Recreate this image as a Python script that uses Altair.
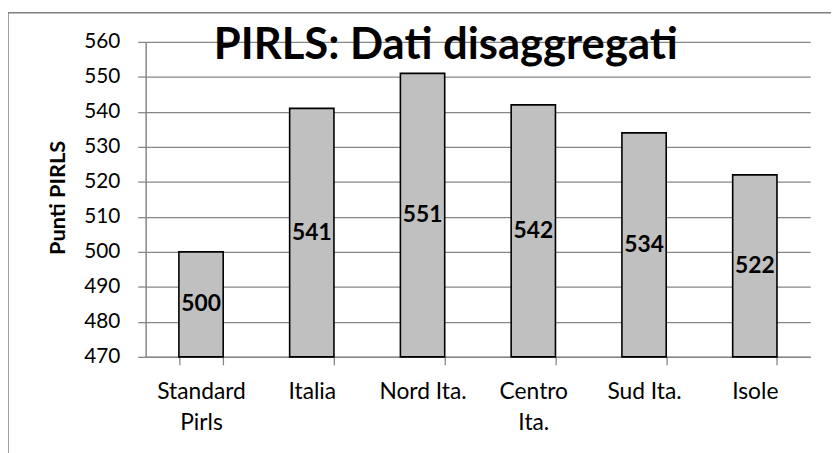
import altair as alt
import pandas as pd

categories = ["Standard Pirls", "Italia", "Nord Ita.", "Centro Ita.", "Sud Ita.", "Isole"]
scores = [500, 541, 551, 542, 534, 522]
label_lines = [["Standard", "Pirls"], ["Italia"], ["Nord Ita."], ["Centro", "Ita."], ["Sud Ita."], ["Isole"]]
y_ticks = [470, 480, 490, 500, 510, 520, 530, 540, 550, 560]
y_base = 470

df = pd.DataFrame({"cat": categories, "v": scores, "base": [y_base] * len(scores)})

W, H = 671, 318
FONT = "Lato"
GRID = "#868686"

parts = []
for c, lines in zip(categories, label_lines):
    arr = "[" + ",".join("'" + l + "'" for l in lines) + "]"
    parts.append(f"datum.label == '{c}' ? {arr} : ")
label_expr = "".join(parts) + "datum.label"

xscale = alt.Scale(domain=categories, paddingInner=0.6, paddingOuter=0.3)
yscale = alt.Scale(domain=[470, 560], zero=False, nice=False)

x_axis = alt.Axis(labelAngle=0, labelExpr=label_expr, ticks=True, tickBand="extent",
                  tickColor=GRID, tickSize=8, tickWidth=1.3,
                  labelFontSize=23, labelFont=FONT, labelColor="black",
                  labelPadding=16, labelLineHeight=31, domainColor=GRID,
                  domainWidth=1.5, labelBaseline="top", labelOverlap=False)
y_axis = alt.Axis(values=y_ticks, tickCount=10, grid=True, gridColor=GRID, gridWidth=1.3,
                  tickColor=GRID, tickSize=8, tickWidth=1.3, domainColor=GRID,
                  domainWidth=1.5, labelFontSize=21, labelFont=FONT,
                  labelColor="black", labelPadding=18, labelOverlap=False,
                  titleFontSize=22, titleFont=FONT, titleFontWeight="bold",
                  titleColor="black", titleX=-77, titleY=157)

base = alt.Chart(df)

bars = base.mark_bar(color="#c0c0c0", stroke="black", strokeWidth=1.6).encode(
    x=alt.X("cat:N", scale=xscale, sort=categories, title=None, axis=x_axis),
    y=alt.Y("v:Q", scale=yscale, title="Punti PIRLS", axis=y_axis),
    y2=alt.Y2("base:Q"),
)

texts = base.transform_calculate(mid="(datum.v + datum.base) / 2").mark_text(
    font=FONT, fontSize=23, fontWeight="bold", color="black"
).encode(
    x=alt.X("cat:N", scale=xscale, sort=categories, title=None, axis=x_axis),
    y=alt.Y("mid:Q", scale=yscale, title="Punti PIRLS", axis=y_axis),
    text=alt.Text("v:Q"),
)

one = pd.DataFrame({"k": [0]})
border = alt.Chart(one).mark_rect(
    fill=None, stroke="#808080", strokeWidth=1.5, clip=False
).encode(
    x=alt.value(-139), x2=alt.value(W + 200), y=alt.value(-29.5), y2=alt.value(H + 300)
)

title = alt.Chart(one).mark_text(
    text="PIRLS: Dati disaggregati", font=FONT, fontSize=44, fontWeight="bold",
    color="black", align="center", baseline="alphabetic"
).encode(x=alt.value(303), y=alt.value(17))

chart = alt.layer(border, bars, texts, title).properties(
    width=W, height=H, padding={"left": 139, "top": 32, "right": 21, "bottom": 110},
    autosize=alt.AutoSizeParams(type="none"),
).configure(background="white", view=alt.ViewConfig(stroke=None))

chart.save("out.html", embed_options={"renderer": "svg", "actions": False})
